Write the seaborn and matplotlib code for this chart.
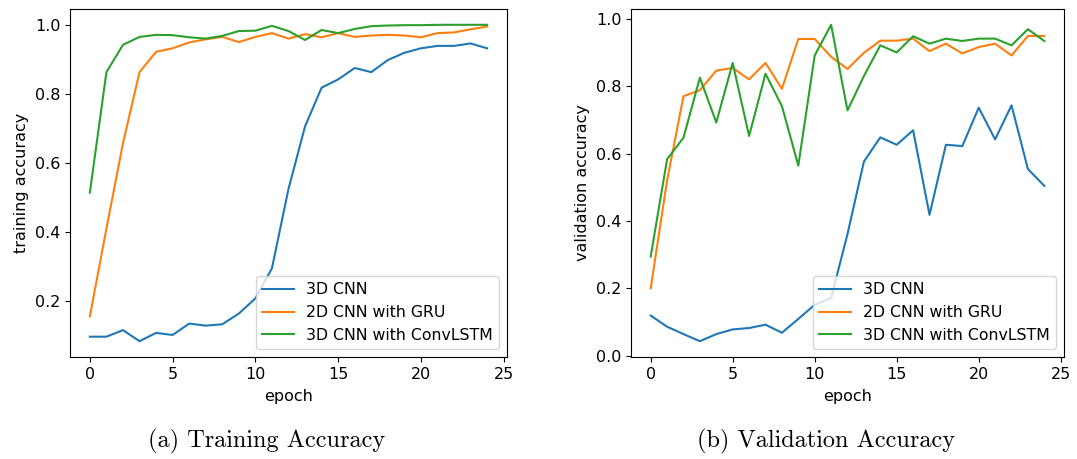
import numpy as np
import pandas as pd
import matplotlib
matplotlib.use('Agg')
import matplotlib.pyplot as plt
import seaborn as sns

epochs = list(range(25))
models = ['3D CNN', '2D CNN with GRU', '3D CNN with ConvLSTM']

# training accuracy
train_3dcnn = [0.097, 0.097, 0.116, 0.084, 0.108, 0.102, 0.135, 0.129, 0.133, 0.164,
               0.208, 0.295, 0.525, 0.706, 0.818, 0.842, 0.875, 0.863, 0.898, 0.919,
               0.932, 0.939, 0.939, 0.946, 0.932]
train_gru = [0.156, 0.41, 0.657, 0.863, 0.922, 0.932, 0.949, 0.958, 0.965, 0.950,
             0.965, 0.976, 0.960, 0.973, 0.964, 0.976, 0.965, 0.969, 0.971, 0.969,
             0.964, 0.976, 0.978, 0.987, 0.995]
train_convlstm = [0.514, 0.863, 0.942, 0.965, 0.971, 0.970, 0.964, 0.960, 0.968, 0.982,
                  0.983, 0.997, 0.982, 0.956, 0.985, 0.976, 0.988, 0.996, 0.998, 0.999,
                  0.999, 1.0, 1.0, 1.0, 1.0]

# validation accuracy
val_3dcnn = [0.119, 0.086, 0.064, 0.043, 0.064, 0.078, 0.082, 0.092, 0.068, 0.109,
             0.151, 0.171, 0.361, 0.576, 0.648, 0.626, 0.669, 0.418, 0.626, 0.622,
             0.736, 0.642, 0.743, 0.554, 0.504]
val_gru = [0.2, 0.52, 0.770, 0.788, 0.846, 0.854, 0.820, 0.869, 0.792, 0.940,
           0.940, 0.887, 0.851, 0.899, 0.935, 0.935, 0.941, 0.904, 0.926, 0.897,
           0.916, 0.926, 0.891, 0.949, 0.949]
val_convlstm = [0.294, 0.583, 0.647, 0.825, 0.692, 0.869, 0.652, 0.837, 0.741, 0.564,
                0.891, 0.982, 0.728, 0.830, 0.921, 0.900, 0.948, 0.926, 0.941, 0.934,
                0.941, 0.941, 0.921, 0.969, 0.934]

plt.rcParams['font.size'] = 11.5

fig = plt.figure(figsize=(10.77, 4.59), dpi=100)
ax1 = fig.add_axes([70 / 1077, 1 - 357 / 459, 437 / 1077, 348 / 459])
ax2 = fig.add_axes([631 / 1077, 1 - 357 / 459, 433 / 1077, 348 / 459])

colors = ['#1f77b4', '#ff7f0e', '#2ca02c']

for ax, series, ylabel, caption, cx in [
        (ax1, [train_3dcnn, train_gru, train_convlstm], 'training accuracy', '(a) Training Accuracy', 267),
        (ax2, [val_3dcnn, val_gru, val_convlstm], 'validation accuracy', '(b) Validation Accuracy', 826)]:
    for name, vals, c in zip(models, series, colors):
        sns.lineplot(x=epochs, y=vals, label=name, color=c, linewidth=1.5, ax=ax)
    ax.set_xlabel('epoch', labelpad=5)
    ax.set_ylabel(ylabel)
    ax.set_xticks([0, 5, 10, 15, 20, 25])
    ax.legend(loc='lower right', fontsize=11.3)
    fig.text(cx / 1077, 1 - 429 / 459, caption, ha='center', va='top',
             fontsize=17.5, family='cmr10')

fig.savefig('out.png', dpi=100)
